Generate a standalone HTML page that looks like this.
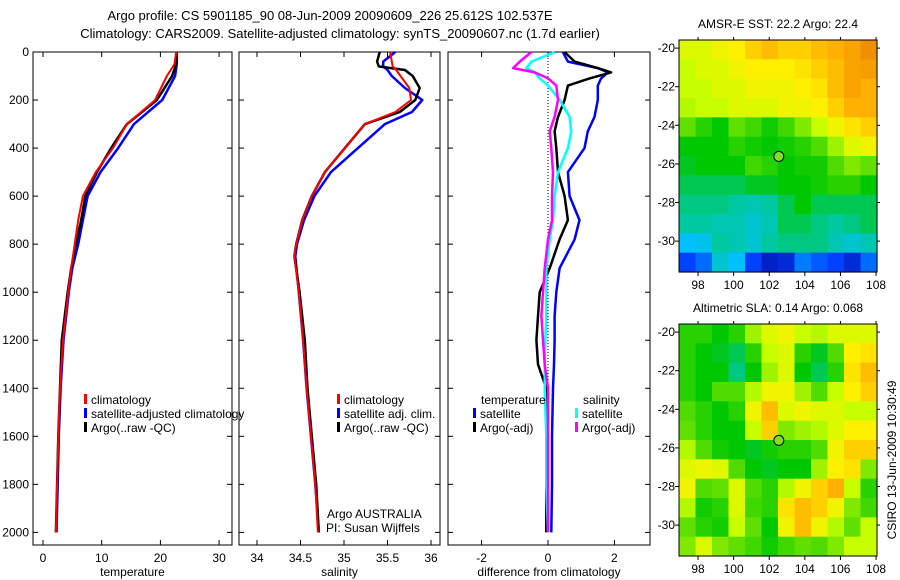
<!DOCTYPE html>
<html><head><meta charset="utf-8"><style>
html,body{margin:0;padding:0;background:#fff;}
svg{display:block;font-family:"Liberation Sans",sans-serif;}
text{font-size:12px;fill:#000;}
</style></head><body>
<svg id="fig" width="900" height="580" viewBox="0 0 900 580">
<text x="330" y="20" text-anchor="middle" style="font-size:13px">Argo profile: CS 5901185_90 08-Jun-2009 20090609_226 25.612S 102.537E</text>
<text x="340" y="38" text-anchor="middle" style="font-size:13px">Climatology: CARS2009. Satellite-adjusted climatology: synTS_20090607.nc (1.7d earlier)</text>
<g id="layer"></g>
<text transform="translate(896,460) rotate(-90)" text-anchor="middle">CSIRO 13-Jun-2009 10:30:49</text>
</svg>
<script>
// ---------- data ----------
const tDepth = [0,50,100,200,300,400,500,600,700,800,900,1000,1200,1400,1600,1800,2000];
const tClim  = [22.7,22.4,21.1,19.1,14.3,11.9,9.0,6.8,6.0,5.4,4.8,4.3,3.4,2.9,2.6,2.4,2.2];
const tSat   = [22.8,22.8,22.5,20.3,15.5,12.8,9.8,7.6,6.8,6.0,5.0,4.4,3.5,3.0,2.7,2.5,2.3];
const tArgo  = [22.7,22.7,22.0,19.4,14.3,11.6,9.2,7.2,6.5,5.6,4.8,4.2,3.2,2.9,2.6,2.4,2.2];

const sDepth = [0,40,60,75,100,150,200,250,300,400,500,600,700,800,850,1000,1200,1400,1600,1800,2000];
const sClim  = [35.53,35.55,35.56,35.6,35.65,35.75,35.77,35.59,35.24,35.01,34.78,34.63,34.52,34.45,34.43,34.48,34.53,34.57,34.62,34.67,34.70];
const sSat   = [35.59,35.45,35.45,35.5,35.55,35.7,35.9,35.78,35.47,35.16,34.85,34.66,34.54,34.46,34.44,34.48,34.53,34.57,34.62,34.67,34.71];
const sArgo  = [35.41,35.38,35.4,35.7,35.79,35.87,35.82,35.64,35.24,35.01,34.78,34.63,34.52,34.45,34.43,34.49,34.55,34.58,34.63,34.68,34.71];

const dDepth = [0,40,67,85,110,140,200,270,330,400,500,600,700,780,900,1000,1100,1200,1300,1400,1600,1800,2000];
const dTempSat  = [0.45,0.6,1.5,1.8,1.6,1.5,1.5,1.4,1.2,1.1,0.6,0.65,0.95,0.8,0.35,0.25,0.2,0.2,0.18,0.15,0.12,0.12,0.1];
const dTempArgo = [0.5,0.8,1.5,1.9,1.25,0.6,0.5,0.3,0.2,0.25,0.3,0.5,0.6,0.35,0.05,-0.25,-0.3,-0.35,-0.3,-0.05,-0.05,-0.05,-0.05];
const dSalSat   = [0.2,-0.5,-0.65,-0.4,-0.25,0.0,0.35,0.65,0.7,0.6,0.3,0.2,0.15,0.05,-0.05,-0.05,-0.05,-0.08,-0.1,-0.1,-0.05,-0.05,0.0];
const dSalArgo  = [-0.5,-0.85,-1.05,-0.4,0.0,0.25,0.3,0.2,0.05,0.1,0.15,0.12,0.12,0.0,-0.1,-0.15,-0.2,-0.15,-0.1,0.0,0.0,0.0,0.0];

const mapLon = [97,98,99,100,101,102,103,104,105,106,107,108];
const mapLat = [-20,-21,-22,-23,-24,-25,-26,-27,-28,-29,-30,-31];
const sstGrid = [
[.75,.75,.78,.80,.85,.88,.85,.85,.88,.90,.92,.95],
[.72,.75,.75,.78,.80,.80,.80,.82,.85,.88,.92,.93],
[.72,.72,.75,.75,.78,.78,.78,.80,.82,.88,.92,.90],
[.70,.72,.72,.75,.75,.75,.78,.78,.80,.85,.90,.90],
[.62,.55,.50,.62,.58,.52,.58,.65,.72,.78,.82,.85],
[.50,.50,.50,.55,.52,.50,.52,.55,.60,.68,.75,.78],
[.48,.50,.50,.50,.58,.55,.50,.52,.52,.60,.65,.62],
[.45,.45,.45,.45,.48,.48,.50,.50,.52,.55,.55,.50],
[.42,.42,.42,.40,.38,.40,.45,.50,.45,.45,.45,.45],
[.40,.40,.38,.38,.35,.38,.45,.45,.42,.40,.42,.45],
[.30,.32,.40,.38,.35,.40,.42,.42,.42,.38,.35,.38],
[.15,.20,.35,.30,.15,.08,.10,.22,.18,.15,.10,.20]];
const slaGrid = [
[.55,.55,.5,.55,.68,.75,.78,.72,.7,.75,.75,.75],
[.55,.5,.48,.45,.55,.72,.75,.55,.48,.6,.8,.82],
[.55,.5,.5,.42,.5,.68,.75,.5,.45,.55,.82,.88],
[.55,.5,.6,.6,.7,.78,.78,.68,.6,.72,.8,.85],
[.6,.55,.5,.55,.78,.88,.75,.78,.75,.75,.72,.72],
[.62,.55,.5,.5,.72,.85,.65,.68,.7,.75,.8,.8],
[.7,.6,.52,.5,.48,.52,.55,.55,.6,.78,.85,.85],
[.75,.78,.75,.6,.5,.48,.5,.5,.68,.8,.82,.65],
[.78,.6,.62,.75,.6,.55,.7,.78,.85,.9,.72,.55],
[.7,.52,.55,.75,.58,.55,.82,.88,.85,.78,.65,.58],
[.62,.55,.52,.72,.62,.5,.78,.88,.78,.7,.62,.72],
[.65,.75,.65,.62,.58,.52,.58,.62,.6,.65,.72,.72]];
const argoLon = 102.537, argoLat = -25.612;
const depthTicks = [0,200,400,600,800,1000,1200,1400,1600,1800,2000];
const tempTicks = [0,10,20,30];
const salTicks = [34,34.5,35,35.5,36];
const diffTicks = [-2,0,2];
const lonTicks = [98,100,102,104,106,108];
const latTicks = [-20,-22,-24,-26,-28,-30];

// ---------- helpers ----------
const NS="http://www.w3.org/2000/svg";
const L=document.getElementById('layer');
function mk(tag,attrs,parent){const e=document.createElementNS(NS,tag);for(const k in attrs)e.setAttribute(k,attrs[k]);(parent||L).appendChild(e);return e;}
function txt(x,y,s,anchor,parent){const e=mk('text',{x:x,y:y,'text-anchor':anchor||'start'},parent);e.textContent=s;return e;}
const yD = d => 52 + d*0.2402;
const pTop=52, pBot=545;

function panel(name,x0,x1,xs,ticks,fmt,label,yLabels){
  const g=mk('g',{});
  
  
  const r=mk('rect',{x:x0,y:pTop,width:x1-x0,height:pBot-pTop,fill:'none',stroke:'#000','stroke-width':1},g);
  
  
  depthTicks.forEach(d=>{
    mk('line',{x1:x0,x2:x0+5,y1:yD(d),y2:yD(d),stroke:'#000'},g);
    mk('line',{x1:x1,x2:x1-5,y1:yD(d),y2:yD(d),stroke:'#000'},g);
    if(yLabels){const t=txt(x0-4,yD(d)+4,String(d),'end',g);
      
      }
  });
  ticks.forEach(v=>{
    const x=xs(v);
    mk('line',{x1:x,x2:x,y1:pBot,y2:pBot-5,stroke:'#000'},g);
    mk('line',{x1:x,x2:x,y1:pTop,y2:pTop+5,stroke:'#000'},g);
    const t=txt(x,562,fmt(v),'middle',g);
    
    
  });
  const lt=txt((x0+x1)/2,576,label,'middle',g);
  
  
  return g;
}
function line(name,depths,vals,xs,color,w){
  const p=mk('polyline',{points:depths.map((d,i)=>xs(vals[i]).toFixed(1)+','+yD(d).toFixed(1)).join(' '),fill:'none',stroke:color,'stroke-width':w,'stroke-linejoin':'round'});
  
  
}
function legend(x,y,color,label,name){
  const g=mk('g',{});
  
  
  mk('rect',{x:x,y:y-10,width:3,height:10,fill:color},g);
  txt(x+7,y,label,'start',g);
}

// ---------- temperature ----------
const xT = v => 43 + v*5.87;
panel('temperature-panel',33,232,xT,tempTicks,v=>String(v),'temperature',true);
line('temp-satellite-line',tDepth,tSat,xT,'#0000ff',2.5);
line('temp-argo-line',tDepth,tArgo,xT,'#000',2.5);
line('temp-climatology-line',tDepth,tClim,xT,'#ff0000',2);
legend(84,404,'#ff0000','climatology','legend-climatology');
legend(84,418,'#0000ff','satellite-adjusted climatology','legend-satellite-adjusted');
legend(84,432,'#000','Argo(..raw -QC)','legend-argo');

// ---------- salinity ----------
const xS = v => 257 + (v-34)*87;
panel('salinity-panel',239,440,xS,salTicks,v=>String(v),'salinity',false);
line('sal-satellite-line',sDepth,sSat,xS,'#0000ff',2.5);
line('sal-argo-line',sDepth,sArgo,xS,'#000',2.5);
line('sal-climatology-line',sDepth,sClim,xS,'#ff0000',2);
legend(337,404,'#ff0000','climatology','legend-sal-climatology');
legend(337,418,'#0000ff','satellite adj. clim.','legend-sal-satellite');
legend(337,432,'#000','Argo(..raw -QC)','legend-sal-argo');
txt(327,518,'Argo AUSTRALIA');
txt(326,532,'PI: Susan Wijffels');

// ---------- differences ----------
const xDf = v => 548 + v*33.2;
panel('difference-panel',448,650,xDf,diffTicks,v=>String(v),'difference from climatology',false);
mk('line',{x1:548,x2:548,y1:pTop,y2:yD(2000),stroke:'#000','stroke-dasharray':'1,2'});
line('diff-temp-satellite',dDepth,dTempSat,xDf,'#0000ff',2.5);
line('diff-temp-argo',dDepth,dTempArgo,xDf,'#000',2.5);
line('diff-sal-satellite',dDepth,dSalSat,xDf,'#00ffff',2.5);
line('diff-sal-argo',dDepth,dSalArgo,xDf,'#ff00ff',2.5);
txt(481,404,'temperature');
legend(473,418,'#0000ff','satellite','legend-diff-temp-satellite');
legend(473,432,'#000','Argo(-adj)','legend-diff-temp-argo');
txt(583,404,'salinity');
legend(575,418,'#00ffff','satellite','legend-diff-sal-satellite');
legend(575,432,'#ff00ff','Argo(-adj)','legend-diff-sal-argo');

// ---------- maps ----------
const stops=[[0,[0,0,128]],[0.15,[0,64,255]],[0.3,[0,192,255]],[0.4,[0,200,160]],[0.5,[0,200,0]],[0.62,[96,224,0]],[0.72,[200,255,0]],[0.8,[255,240,0]],[0.9,[255,176,0]],[1,[224,112,0]]];
function cmap(v){for(let i=1;i<stops.length;i++){if(v<=stops[i][0]){const a=stops[i-1],b=stops[i];const t=(v-a[0])/(b[0]-a[0]);return 'rgb('+a[1].map((c,k)=>Math.round(c+(b[1][k]-c)*t)).join(',')+')';}}return 'rgb(224,112,0)';}
function map(name,y0,grid,title){
  const x0=679,x1=877,y1=y0+232;
  const xs=lon=>679+(lon-96.93)*17.8;
  const ys=lat=>y0+(-19.58-lat)*19.3;
  const g=mk('g',{});
  
  
  const cw=(x1-x0)/mapLon.length, ch=(y1-y0)/mapLat.length;
  grid.forEach((row,r)=>row.forEach((v,c)=>{
    const cell=mk('rect',{x:(x0+c*cw).toFixed(2),y:(y0+r*ch).toFixed(2),width:(cw+0.6).toFixed(2),height:(ch+0.6).toFixed(2),fill:cmap(v)},g);
    
    
  }));
  mk('rect',{x:x0,y:y0,width:x1-x0,height:y1-y0,fill:'none',stroke:'#000'},g);
  lonTicks.forEach(l=>{const x=xs(l);mk('line',{x1:x,x2:x,y1:y1,y2:y1+4,stroke:'#000'},g);mk('line',{x1:x,x2:x,y1:y0,y2:y0-3,stroke:'#000'},g);
    const t=txt(x,y1+17,String(l),'middle',g);});
  latTicks.forEach(l=>{const y=ys(l);mk('line',{x1:x0,x2:x0-4,y1:y,y2:y,stroke:'#000'},g);mk('line',{x1:x1,x2:x1+3,y1:y,y2:y,stroke:'#000'},g);
    const t=txt(x0-4,y+4,String(l),'end',g);});
  const c=mk('circle',{cx:xs(argoLon),cy:ys(argoLat),r:5,fill:'#80e020',stroke:'#000','stroke-width':1},g);
  
  
  const t=txt(778,y0-12,title,'middle',g);
  
  
}
map('sst-map',40,sstGrid,'AMSR-E SST: 22.2 Argo: 22.4');
map('sla-map',324,slaGrid,'Altimetric SLA: 0.14 Argo: 0.068');
</script>
</body></html>
